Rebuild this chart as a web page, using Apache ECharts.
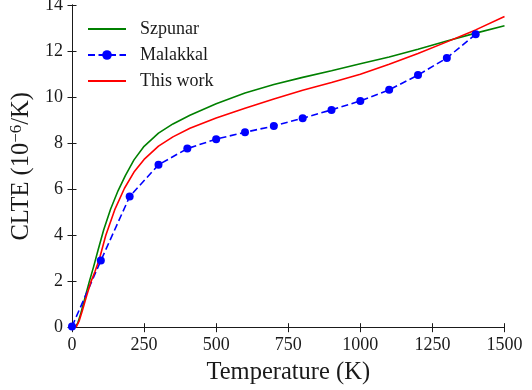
<!DOCTYPE html>
<html>
<head>
<meta charset="utf-8">
<script src="https://cdn.jsdelivr.net/npm/echarts@6/dist/echarts.min.js"></script>
<style>
html,body{margin:0;padding:0;background:#fff;}
#chart{width:532px;height:390px;}
</style>
</head>
<body>
<div id="chart"></div>
<script>
// ---- data (Temperature K, CLTE 1e-6/K) ----
const seriesNames = ['Szpunar', 'Malakkal', 'This work'];
const xTicks = [0, 250, 500, 750, 1000, 1250, 1500];
const yTicks = [0, 2, 4, 6, 8, 10, 12, 14];

const szpunarT = [5, 12, 20, 30, 45, 60, 75, 90, 110, 134, 160, 185, 215, 250, 300, 350, 409, 500, 600, 700, 800, 900, 1000, 1100, 1200, 1300, 1400, 1500];
const szpunarV = [0, 0.05, 0.2, 0.6, 1.3, 2.0, 2.65, 3.35, 4.25, 5.15, 5.95, 6.6, 7.28, 7.87, 8.44, 8.84, 9.22, 9.72, 10.18, 10.55, 10.86, 11.15, 11.45, 11.74, 12.08, 12.44, 12.78, 13.1];

const malakkalT = [0, 100, 200, 300, 400, 500, 600, 700, 800, 900, 1000, 1100, 1200, 1300, 1400];
const malakkalV = [0.05, 2.91, 5.69, 7.07, 7.77, 8.18, 8.48, 8.75, 9.09, 9.45, 9.84, 10.32, 10.96, 11.7, 12.73];

const thisWorkT = [5, 15, 25, 35, 50, 66, 80, 95, 117, 148, 182, 215, 250, 300, 350, 409, 500, 600, 700, 800, 900, 1000, 1100, 1200, 1300, 1400, 1500];
const thisWorkV = [0, 0.05, 0.3, 0.7, 1.35, 2.0, 2.45, 2.98, 4.0, 5.11, 6.05, 6.75, 7.3, 7.88, 8.28, 8.65, 9.1, 9.52, 9.92, 10.3, 10.64, 11.0, 11.43, 11.9, 12.4, 12.92, 13.5];

const zip = (a, b) => a.map((x, i) => [x, b[i]]);

const FONT = "'Liberation Serif', 'DejaVu Serif', serif";
const INK = '#1a1a1a';

const chart = echarts.init(document.getElementById('chart'), null, {renderer: 'canvas'});

const tickStyle = {show: true, inside: true, length: 4.5, lineStyle: {color: INK, width: 1}};
const lineStyleAxis = {show: true, lineStyle: {color: INK, width: 1}};
const plainNum = v => String(v);

chart.setOption({
  animation: false,
  backgroundColor: '#fff',
  grid: {left: 72, right: 27.5, top: 5, bottom: 62.3, containLabel: false, outerBoundsMode: 'none'},
  legend: {
    left: 82, top: 15, orient: 'vertical',
    itemWidth: 38, itemHeight: 12, itemGap: 8,
    textStyle: {fontFamily: FONT, fontSize: 18, color: INK, padding: [0, 0, 0, 9]},
    data: [
      {name: seriesNames[0], itemStyle: {opacity: 0}},
      {name: seriesNames[1]},
      {name: seriesNames[2], itemStyle: {opacity: 0}}
    ]
  },
  xAxis: [{
    type: 'value', min: xTicks[0], max: xTicks[xTicks.length - 1], interval: 250,
    position: 'bottom',
    name: 'Temperature (K)', nameLocation: 'middle', nameGap: 32,
    nameTextStyle: {fontFamily: FONT, fontSize: 24.5, color: INK},
    axisLine: lineStyleAxis, axisTick: tickStyle,
    axisLabel: {fontFamily: FONT, fontSize: 18, color: INK, margin: 9, formatter: plainNum},
    splitLine: {show: false}
  }, {
    type: 'value', min: xTicks[0], max: xTicks[xTicks.length - 1], interval: 250,
    position: 'top',
    axisLine: lineStyleAxis, axisTick: tickStyle,
    axisLabel: {show: false}, splitLine: {show: false}
  }],
  yAxis: [{
    type: 'value', min: yTicks[0], max: yTicks[yTicks.length - 1], interval: 2,
    position: 'left',
    name: '{a|CLTE (10}{s|−6}{a|/K)}', nameLocation: 'middle', nameGap: 34, nameRotate: 90,
    nameTextStyle: {
      fontFamily: FONT, fontSize: 24.5, color: INK,
      rich: {
        a: {fontFamily: FONT, fontSize: 24.5, color: INK},
        s: {fontFamily: FONT, fontSize: 17, color: INK, verticalAlign: 'bottom', padding: [0, 0, 11, 0]}
      }
    },
    axisLine: lineStyleAxis, axisTick: tickStyle,
    axisLabel: {fontFamily: FONT, fontSize: 18, color: INK, margin: 9, formatter: plainNum},
    splitLine: {show: false}
  }, {
    type: 'value', min: yTicks[0], max: yTicks[yTicks.length - 1], interval: 2,
    position: 'right',
    axisLine: lineStyleAxis, axisTick: tickStyle,
    axisLabel: {show: false}, splitLine: {show: false}
  }],
  series: [{
    name: seriesNames[0], type: 'line', xAxisIndex: 0, yAxisIndex: 0,
    data: zip(szpunarT, szpunarV), showSymbol: false, symbol: 'none',
    lineStyle: {color: '#008000', width: 1.6}, itemStyle: {color: '#008000'}
  }, {
    name: seriesNames[1], type: 'line', xAxisIndex: 0, yAxisIndex: 0,
    data: zip(malakkalT, malakkalV), symbol: 'circle', symbolSize: 8,
    lineStyle: {color: '#0000ff', width: 1.6, type: [7, 3.5]}, itemStyle: {color: '#0000ff'}
  }, {
    name: seriesNames[2], type: 'line', xAxisIndex: 0, yAxisIndex: 0,
    data: zip(thisWorkT, thisWorkV), showSymbol: false, symbol: 'none',
    lineStyle: {color: '#ff0000', width: 1.6}, itemStyle: {color: '#ff0000'}
  }]
});
</script>
</body>
</html>
